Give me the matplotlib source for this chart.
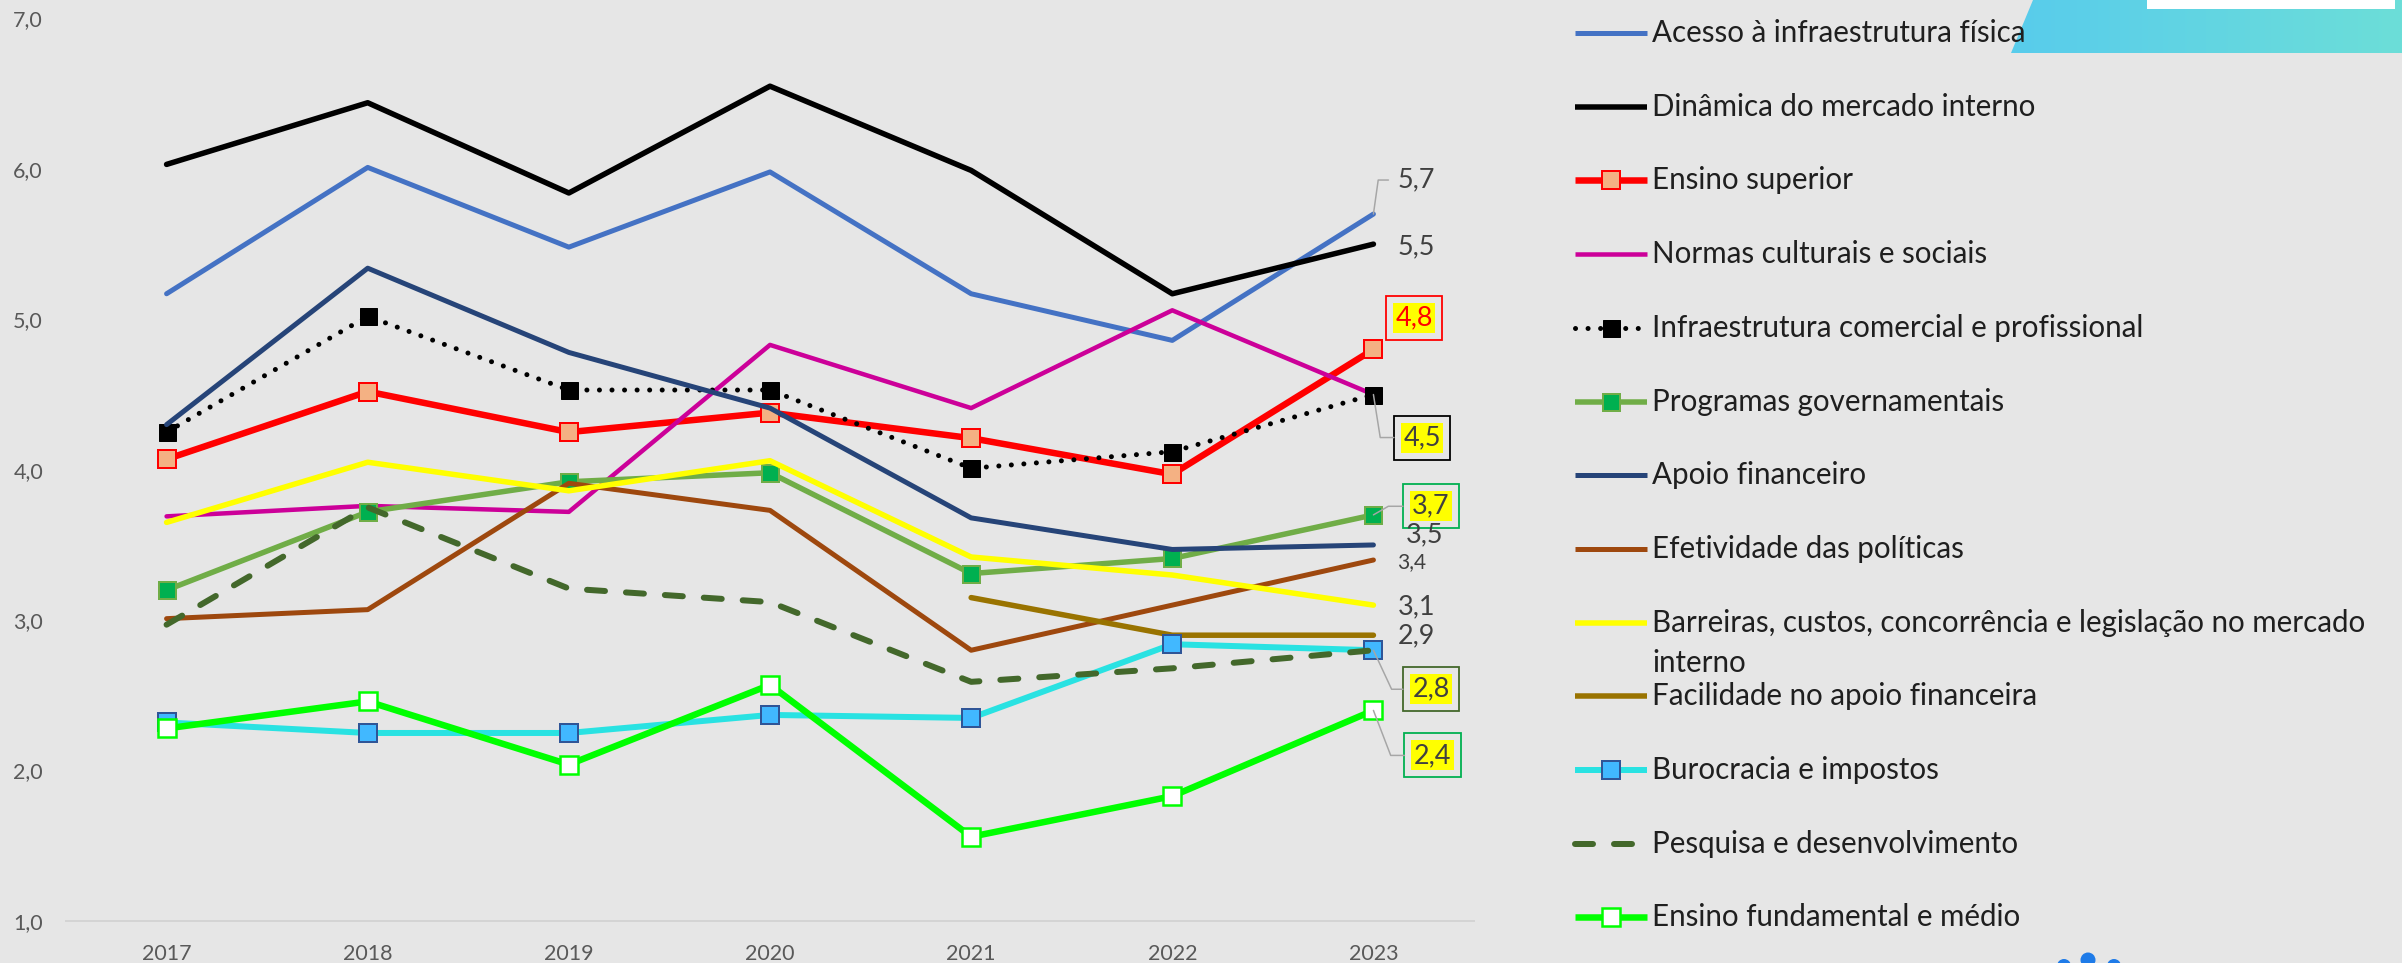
import numpy as np
import matplotlib
matplotlib.use('Agg')
import matplotlib.pyplot as plt
from matplotlib.lines import Line2D
from matplotlib.patches import Polygon, Rectangle, Circle

plt.rcParams['font.family'] = ['Lato', 'DejaVu Sans']

# ---------------- data ----------------
years = ['2017', '2018', '2019', '2020', '2021', '2022', '2023']
nan = np.nan
acesso = [5.17, 6.01, 5.48, 5.98, 5.17, 4.86, 5.70]
dinamica = [6.03, 6.44, 5.84, 6.55, 5.99, 5.17, 5.50]
ensino_sup = [4.07, 4.52, 4.25, 4.38, 4.21, 3.97, 4.80]
normas = [3.69, 3.76, 3.72, 4.83, 4.41, 5.06, 4.50]
infra_com = [4.25, 5.02, 4.53, 4.53, 4.01, 4.12, 4.50]
programas = [3.20, 3.72, 3.92, 3.98, 3.31, 3.41, 3.70]
apoio = [4.30, 5.34, 4.78, 4.41, 3.68, 3.47, 3.50]
efetividade = [3.01, 3.07, 3.91, 3.73, 2.80, 3.10, 3.40]
barreiras = [3.65, 4.05, 3.86, 4.06, 3.42, 3.30, 3.10]
facilidade = [nan, nan, nan, nan, 3.15, 2.90, 2.90]
burocracia = [2.32, 2.25, 2.25, 2.37, 2.35, 2.84, 2.80]
pesquisa = [2.97, 3.75, 3.21, 3.12, 2.59, 2.68, 2.80]
ensino_fund = [2.28, 2.46, 2.04, 2.57, 1.56, 1.83, 2.40]

names = [
    'Acesso à infraestrutura física',
    'Dinâmica do mercado interno',
    'Ensino superior',
    'Normas culturais e sociais',
    'Infraestrutura comercial e profissional',
    'Programas governamentais',
    'Apoio financeiro',
    'Efetividade das políticas',
    'Barreiras, custos, concorrência e legislação no mercado\ninterno',
    'Facilidade no apoio financeira',
    'Burocracia e impostos',
    'Pesquisa e desenvolvimento',
    'Ensino fundamental e médio',
]
series = [acesso, dinamica, ensino_sup, normas, infra_com, programas, apoio,
          efetividade, barreiras, facilidade, burocracia, pesquisa, ensino_fund]
y_ticks = [1, 2, 3, 4, 5, 6, 7]

# ---------------- styles ----------------
styles = [
    dict(color='#4472C4', lw=5),
    dict(color='#000000', lw=5.5),
    dict(color='#FF0000', lw=6.5, marker='s', ms=18, mfc='#F4B183', mec='#FF0000', mew=2),
    dict(color='#CC0099', lw=4.5),
    dict(color='#000000', lw=5, ls=(0, (0.01, 2.5)), dash_capstyle='round',
         marker='s', ms=17, mfc='#000000', mec='#000000', mew=1),
    dict(color='#70AD47', lw=5.5, marker='s', ms=17, mfc='#00B050', mec='#70AD47', mew=2),
    dict(color='#264478', lw=5),
    dict(color='#9E480E', lw=5),
    dict(color='#FFFF00', lw=5.5),
    dict(color='#997300', lw=5.5),
    dict(color='#29E2E2', lw=6, marker='s', ms=18, mfc='#41B8FF', mec='#2F5597', mew=2),
    dict(color='#43682B', lw=6, ls=(0, (3, 3.5)), dash_capstyle='round'),
    dict(color='#00FF00', lw=6.5, marker='s', ms=18, mfc='#FFFFFF', mec='#00FF00', mew=2.5),
]

# end labels: (dx, dy) in points, fontsize, text colour, box edge colour, leader angleB
end_labels = {
    0: (43, 34, 27, '#404040', None, 82),
    1: (43, -3, 27, '#404040', None, None),
    2: (40.5, 31.6, 27, '#FF0000', '#FF0000', None),
    4: (48.5, -43, 27, '#404040', '#000000', -81),
    5: (57.5, 8.6, 27, '#404040', '#00B050', 30),
    6: (51, 9.7, 27, '#404040', None, None),
    7: (38, -2, 21, '#404040', None, None),
    8: (43, -2, 27, '#404040', None, None),
    9: (43, -1, 27, '#404040', None, None),
    11: (57.5, -39, 27, '#404040', '#43682B', -65),
    12: (59, -45, 27, '#404040', '#00B050', -69),
}

W, H = 2402, 963
DPI = 72
BG = '#E6E6E6'
fig = plt.figure(figsize=(W / DPI, H / DPI), dpi=DPI, facecolor=BG)

# decorative shape top right
deco = fig.add_axes([2011 / W, 1 - 53 / H, (W - 2011) / W, 53 / H])
deco.axis('off')
grad = np.linspace(0, 1, 256)[None, :, None]
c0 = np.array([0x58, 0xCC, 0xEC]) / 255
c1 = np.array([0x6C, 0xDE, 0xD8]) / 255
img = c0 + (c1 - c0) * grad
im = deco.imshow(img, extent=[0, 1, 0, 1], aspect='auto')
poly = Polygon([(0, 0), (22 / (W - 2011), 1), (1, 1), (1, 0)], closed=True,
               transform=deco.transAxes, facecolor='none', edgecolor='none')
deco.add_patch(poly)
im.set_clip_path(poly)
deco.set_xlim(0, 1); deco.set_ylim(0, 1)
fig.add_artist(Rectangle((2147 / W, 1 - 9 / H), (2395 - 2147) / W, 9 / H,
                         transform=fig.transFigure, facecolor='white', edgecolor='none', zorder=5))
for cx, cy, r in [(2064, 966, 7), (2088, 960, 7.5), (2114, 966, 7)]:
    fig.add_artist(Circle((cx / DPI, (H - cy) / DPI), r / DPI, transform=fig.dpi_scale_trans,
                          facecolor='#1E7BE8', edgecolor='none'))

# main axes
ax = fig.add_axes([66 / W, 1 - 921 / H, (1474 - 66) / W, (921 - 18.5) / H])
ax.set_facecolor(BG)
x = np.arange(len(years))
for s, st in zip(series, styles):
    kw = dict(st)
    ax.plot(x, s, color=kw.pop('color'), lw=kw.pop('lw'), ls=kw.pop('ls', '-'),
            solid_capstyle='round', clip_on=False, **kw)

ax.set_xlim(-0.5, 6.5)
ax.set_ylim(1, 7)
ax.set_xticks(x)
ax.set_xticklabels(years)
ax.set_yticks(y_ticks)
ax.set_yticklabels([f'{v:.1f}'.replace('.', ',') for v in y_ticks])
for sp in ['top', 'right', 'left']:
    ax.spines[sp].set_visible(False)
ax.spines['bottom'].set_color('#D4D4D4')
ax.spines['bottom'].set_linewidth(2)
ax.tick_params(axis='both', length=0, labelsize=21.5, labelcolor='#595959')
ax.tick_params(axis='y', pad=23)
ax.tick_params(axis='x', pad=23)

# end labels
for i, (dx, dy, fs, tc, ec, ang) in end_labels.items():
    v = series[i][-1]
    txt = f'{v:.1f}'.replace('.', ',')
    if ec is None:
        ax.annotate(txt, xy=(6, v), xytext=(dx, dy), textcoords='offset points',
                    ha='center', va='center', fontsize=fs, color=tc, zorder=10)
    else:
        ax.annotate(txt, xy=(6, v), xytext=(dx, dy), textcoords='offset points',
                    ha='center', va='center', fontsize=fs, color='none', zorder=10,
                    bbox=dict(boxstyle=f'square,pad={9.5 / fs:.3f}', facecolor='none',
                              edgecolor=ec, linewidth=1.8))
        ax.annotate(txt, xy=(6, v), xytext=(dx, dy), textcoords='offset points',
                    ha='center', va='center', fontsize=fs, color=tc, zorder=11,
                    bbox=dict(boxstyle=f'square,pad={2.5 / fs:.3f}', facecolor='#FFFF00',
                              edgecolor='none'))
    if ang is not None:
        ax.annotate('', xy=(6, v), xytext=(dx - 28, dy), textcoords='offset points',
                    zorder=12, annotation_clip=False,
                    arrowprops=dict(arrowstyle='-', color='#A6A6A6', lw=1.5,
                                    shrinkA=0, shrinkB=0,
                                    connectionstyle=f'angle,angleA=0,angleB={ang},rad=0'))

# legend (manual)
hx0, hx1, tx = 1575, 1647, 1652
for i, (nm, st) in enumerate(zip(names, styles)):
    ypx = 33 + 73.7 * i
    yf = 1 - ypx / H
    kw = dict(st)
    ln = Line2D([hx0 / W, (hx0 + hx1) / 2 / W, hx1 / W], [yf, yf, yf],
                transform=fig.transFigure, color=kw.pop('color'), lw=kw.pop('lw'),
                ls=kw.pop('ls', '-'), solid_capstyle='butt', markevery=[1], **kw)
    fig.add_artist(ln)
    for j, line in enumerate(nm.split('\n')):
        fig.text(tx / W, 1 - (ypx + 40 * j) / H, line, ha='left', va='center',
                 fontsize=29.5, color='#1F1F1F')

fig.savefig('out.png', dpi=DPI, facecolor=BG)
